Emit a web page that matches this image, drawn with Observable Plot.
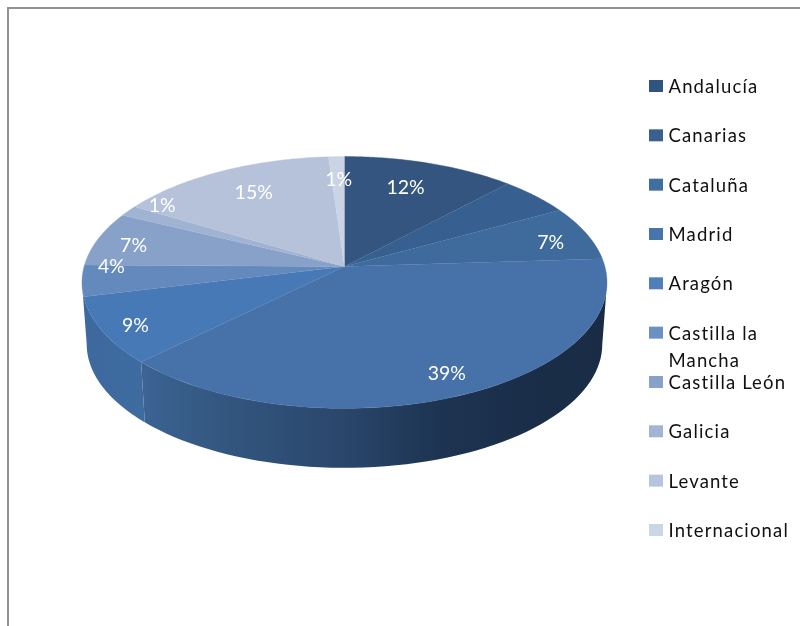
<!DOCTYPE html>
<html>
<head>
<meta charset="utf-8">
<script src="https://cdn.jsdelivr.net/npm/d3@7"></script>
<script src="https://cdn.jsdelivr.net/npm/@observablehq/plot@0.6"></script>
<style>
html,body{margin:0;padding:0;background:#fff}
svg{display:block;filter:blur(.45px)}
</style>
</head>
<body>
<div id="chart"></div>
<script>
// Data
const names = ["Andalucía","Canarias","Cataluña","Madrid","Aragón","Castilla la Mancha","Castilla León","Galicia","Levante","Internacional"];
const values = [12,5,7,38.6,8.6,4,7,1.4,15.3,1.1];
const labelled = [true,false,true,true,true,true,true,true,true,true];
// Colours
const topColors = ["#33557f","#376090","#3e6a9c","#4671a9","#4679b5","#6489bd","#87a1c9","#a0b3d3","#b5c2da","#cad4e5"];
const legendColors = ["#2f5480","#3a6090","#406ea0","#4775ab","#4f7fb8","#6a90c4","#86a2cb","#a0b4d4","#b6c4de","#cbd6e7"];
// Where each label sits: position round the pie (in %) and fraction of the radius
const labelAt = [5.6,null,21.2,43.2,66.5,75,78.3,84.7,91.6,99.5];
const labelRadius = [.74,null,.835,.855,.88,.895,.846,.91,.749,.77];

// Tilted, perspective disc
const A = 260.4, B = 123.9, K = 0.1266, DEPTH = 62, SHRINK = 0.982;
const project = (pct, r = 1, lower = false) => {
  const t = pct / 100 * 2 * Math.PI, u = r * Math.sin(t), v = r * Math.cos(t), w = 1 + K * v;
  const s = lower ? SHRINK : 1;
  return {x: s * A * u / w, y: -s * B * v / w + (lower ? DEPTH : 0)};
};
const arc = (p0, p1, lower) => d3.range(0, 61).map(i => project(p0 + (p1 - p0) * i / 60, 1, lower));

const total = d3.sum(values);
const cum = d3.cumsum(values).map(c => c / total * 100);
const starts = [0, ...cum.slice(0, -1)];

const tops = names.flatMap((name, i) => [{x: 0, y: 0, name}, ...arc(starts[i], cum[i]).map(p => ({...p, name}))]);

const wallEdgeR = 100 * (Math.acos(-K) / (2 * Math.PI));
const wallEdgeL = 100 - wallEdgeR;
const wall = (p0, p1) => [...arc(p0, p1, false), ...arc(p1, p0, true)];
const wallMain = wall(wallEdgeR, cum[3]);
const wallLeft = wall(cum[3], wallEdgeL);

const labels = names.map((name, i) => labelled[i] ? {
  ...project(labelAt[i], labelRadius[i]),
  text: Math.round(values[i]) + "%"
} : null).filter(Boolean);

const rowY = i => -180 + i * 49.33;
const legendRows = names.map((name, i) => ({name, y: rowY(i)}));
const legendLines = names.flatMap((name, i) =>
  name === "Castilla la Mancha"
    ? [{text: "Castilla la", y: rowY(i) + .5}, {text: "Mancha", y: rowY(i) + 28}]
    : [{text: name, y: rowY(i) + .5}]);

const gradients = () => {
  const defs = d3.create("svg:defs");
  const add = (id, stops) => {
    const g = defs.append("linearGradient").attr("id", id).attr("x1", 0).attr("x2", 1).attr("y1", 0).attr("y2", 0);
    stops.forEach(([o, c]) => g.append("stop").attr("offset", o).attr("stop-color", c));
  };
  add("wallMain", [[0, "#3c6394"], [.125, "#355a84"], [.435, "#2a466b"], [.64, "#1d3452"], [.81, "#1a2e49"], [1, "#1a2c45"]]);
  add("wallLeft", [[0, "#3d699f"], [1, "#3e6ba0"]]);
  return defs.node();
};

const spaced = (index, scales, values, dims, context, next) => {
  const g = next(index, scales, values, dims, context);
  g.style.letterSpacing = "1.15px";
  return g;
};

const font = "Lato, 'Open Sans', sans-serif";
const chart = Plot.plot({
  width: 800, height: 626, margin: 0,
  x: {domain: [-344, 456], range: [0, 800], axis: null},
  y: {domain: [-266, 360], range: [0, 626], axis: null},
  color: {domain: names, range: topColors},
  marks: [
    gradients,
    Plot.ruleX([-336.5], {y1: -259, y2: 360, stroke: "#939393", strokeWidth: 2}),
    Plot.ruleY([-258.5], {x1: -337, x2: 456, stroke: "#939393", strokeWidth: 2}),
    Plot.line(wallMain, {x: "x", y: "y", fill: "url(#wallMain)", stroke: "none", curve: "linear"}),
    Plot.line(wallLeft, {x: "x", y: "y", fill: "url(#wallLeft)", stroke: "none", curve: "linear"}),
    Plot.line(tops, {x: "x", y: "y", z: "name", fill: "name", stroke: "name", strokeWidth: .4, curve: "linear"}),
    Plot.text(labels, {x: "x", y: "y", text: "text", fill: "white", fontSize: 19.5, fontFamily: font}),
    Plot.rect(legendRows, {x1: () => 305, x2: () => 319, y1: d => d.y - 6, y2: d => d.y + 6, fill: (d, i) => legendColors[i]}),
    Plot.text(legendLines, {x: () => 324, y: "y", text: "text", textAnchor: "start", fill: "#111", fontSize: 18.5, fontFamily: font, render: spaced})
  ]
});
document.getElementById("chart").append(chart);
</script>
</body>
</html>
